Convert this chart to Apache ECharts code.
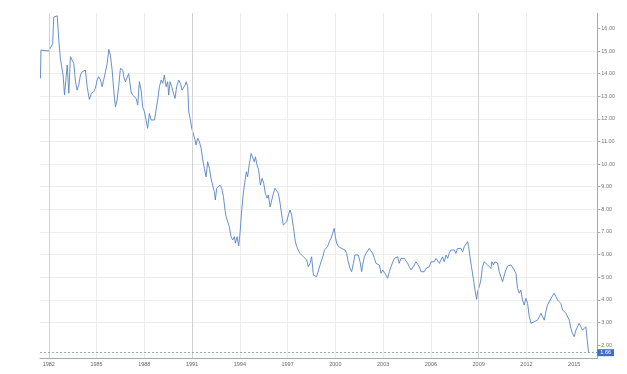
<!DOCTYPE html>
<html>
<head>
<meta charset="utf-8">
<script src="https://cdn.jsdelivr.net/npm/echarts@6/dist/echarts.min.js"></script>
<style>
html,body{margin:0;padding:0;background:#fff;}
#chart{width:627px;height:374px;}
</style>
</head>
<body>
<div id="chart"></div>
<script>
// Decimal-year positions of the observations
const years = [
1981.48,1981.51,1982.00,1982.17,1982.25,1982.31,1982.53,1982.63,1982.73,1982.84,1982.90,1982.99,
1983.09,1983.16,1983.26,1983.36,1983.47,1983.57,1983.68,1983.78,1983.88,1983.99,
1984.10,1984.20,1984.30,1984.41,1984.55,1984.68,1984.82,1984.93,
1985.04,1985.14,1985.25,1985.35,1985.45,1985.56,1985.67,1985.77,1985.87,1985.98,
1986.08,1986.19,1986.29,1986.39,1986.50,1986.65,1986.71,1986.81,1986.92,
1987.02,1987.17,1987.27,1987.38,1987.49,1987.59,1987.69,1987.80,1987.90,
1988.01,1988.11,1988.21,1988.32,1988.43,1988.53,1988.64,1988.74,1988.84,1988.95,
1989.06,1989.16,1989.26,1989.37,1989.47,1989.53,1989.62,1989.72,1989.83,1989.93,
1990.03,1990.16,1990.27,1990.37,1990.46,1990.56,1990.63,1990.73,1990.79,1990.88,1990.98,
1991.08,1991.19,1991.25,1991.35,1991.46,1991.57,1991.67,1991.77,1991.88,1991.98,
1992.09,1992.19,1992.29,1992.40,1992.46,1992.55,1992.65,1992.76,1992.86,1992.97,
1993.07,1993.14,1993.24,1993.34,1993.45,1993.55,1993.66,1993.72,1993.83,1993.93,
1994.01,1994.12,1994.22,1994.33,1994.41,1994.49,1994.60,1994.71,1994.81,1994.91,1994.98,
1995.08,1995.18,1995.29,1995.40,1995.50,1995.60,1995.71,1995.79,1995.90,
1996.00,1996.11,1996.21,1996.31,1996.42,1996.53,1996.63,1996.73,1996.84,1996.94,
1997.05,1997.15,1997.25,1997.36,1997.47,1997.57,1997.67,1997.78,1997.88,1997.99,
1998.09,1998.20,1998.30,1998.41,1998.51,1998.62,1998.72,1998.82,1998.93,
1999.04,1999.14,1999.24,1999.31,1999.41,1999.51,1999.62,1999.73,1999.83,1999.93,
2000.00,2000.08,2000.19,2000.29,2000.39,2000.50,2000.61,2000.71,2000.81,2000.92,
2001.02,2001.13,2001.23,2001.33,2001.44,2001.55,2001.65,2001.71,2001.82,2001.92,
2002.02,2002.13,2002.24,2002.34,2002.45,2002.55,2002.65,2002.76,2002.87,2002.97,
2003.07,2003.18,2003.28,2003.39,2003.49,2003.59,2003.70,2003.81,2003.91,
2004.01,2004.12,2004.22,2004.33,2004.44,2004.54,2004.64,2004.75,2004.85,2004.96,
2005.06,2005.16,2005.27,2005.38,2005.48,2005.58,2005.69,2005.79,2005.90,
2006.01,2006.11,2006.21,2006.32,2006.42,2006.53,2006.63,2006.73,2006.84,2006.95,
2007.05,2007.15,2007.26,2007.36,2007.47,2007.57,2007.67,2007.78,2007.89,2007.99,
2008.10,2008.20,2008.30,2008.37,2008.45,2008.55,2008.66,2008.77,2008.87,2008.93,
2009.04,2009.14,2009.24,2009.35,2009.46,2009.56,2009.66,2009.77,2009.83,2009.92,
2010.02,2010.08,2010.19,2010.29,2010.40,2010.50,2010.61,2010.71,2010.81,2010.92,
2011.03,2011.13,2011.23,2011.34,2011.44,2011.55,2011.65,2011.75,2011.86,2011.97,
2012.07,2012.18,2012.28,2012.38,2012.49,2012.60,2012.70,2012.80,2012.91,
2013.01,2013.12,2013.22,2013.32,2013.43,2013.54,2013.64,2013.74,2013.85,2013.95,
2014.06,2014.16,2014.27,2014.37,2014.48,2014.58,2014.69,2014.79,2014.89,
2015.00,2015.11,2015.21,2015.31,2015.42,2015.52,2015.63,2015.73,2015.83,2015.90
];
const values = [
13.79,15.04,15.00,15.22,15.34,16.49,16.56,15.48,14.67,14.60,13.94,13.05,
13.86,14.38,13.13,14.75,14.82,14.45,13.64,13.27,13.49,13.94,
14.08,14.00,14.16,13.42,12.86,13.13,13.20,13.35,
13.72,13.86,13.72,13.42,13.72,14.08,14.45,15.07,14.82,14.16,
13.27,12.53,12.83,13.42,14.23,14.16,13.86,13.64,13.57,
14.00,13.20,13.05,12.98,12.90,12.61,13.64,13.27,12.53,
12.31,11.95,11.58,12.24,11.95,11.87,11.95,12.02,12.83,13.42,
13.72,13.57,13.94,13.42,13.64,13.05,13.64,13.42,13.13,12.90,
13.42,13.72,13.57,13.27,13.20,13.49,13.64,13.42,12.31,12.02,11.58,
11.50,11.06,10.84,11.14,10.99,10.70,10.18,9.81,9.44,10.10,
9.81,9.37,9.07,8.78,8.41,8.93,9.00,9.07,8.93,8.56,
7.97,7.67,7.60,7.23,6.79,6.64,6.79,6.50,6.79,6.38,
6.94,7.97,8.71,9.29,9.66,9.44,10.03,10.47,10.47,10.10,10.32,
9.96,9.74,9.07,9.37,9.15,8.71,8.49,8.63,8.11,
8.04,8.71,8.93,8.85,8.71,8.26,7.75,7.30,7.23,7.45,
7.75,7.97,7.75,7.23,6.64,6.35,6.20,6.05,6.12,5.90,
5.98,5.76,5.46,5.61,5.90,5.09,5.02,5.02,5.09,
5.54,5.50,5.98,6.20,6.27,6.35,6.57,6.72,6.94,7.16,
6.79,6.50,6.35,6.35,6.27,6.20,6.20,6.05,5.68,5.39,
5.24,5.61,5.98,6.05,5.98,5.68,5.24,5.54,5.90,6.05,
5.98,6.27,6.20,6.05,5.83,5.61,5.68,5.54,5.17,5.32,
5.24,5.09,4.95,5.24,5.46,5.54,5.83,5.76,5.90,
5.61,5.83,5.90,5.83,5.76,5.61,5.46,5.32,5.39,5.54,
5.68,5.61,5.46,5.24,5.17,5.24,5.39,5.32,5.46,
5.68,5.76,5.68,5.83,5.76,5.61,5.76,5.90,5.68,5.98,
5.83,6.05,6.20,6.12,6.20,6.05,6.27,6.20,6.27,6.12,
6.35,6.42,6.57,6.35,5.90,5.46,4.95,4.43,4.02,4.36,
4.58,4.87,5.46,5.68,5.73,5.54,5.61,5.39,5.68,5.54,
5.68,5.76,5.61,5.24,5.17,4.80,5.09,5.32,5.49,5.54,
5.54,5.49,5.32,5.17,4.51,4.29,4.43,3.99,3.77,4.06,
3.84,3.25,2.96,3.03,3.03,3.03,3.10,3.18,3.40,
3.33,3.10,3.47,3.77,3.91,4.06,4.14,4.29,4.14,3.99,
4.06,3.84,3.55,3.55,3.40,3.47,3.10,2.73,2.52,
2.37,2.66,2.73,2.96,2.81,2.66,2.66,2.81,2.88,1.66
];
const xTickYears = [1982,1985,1988,1991,1994,1997,2000,2003,2006,2009,2012,2015];
const yTickValues = [2,3,4,5,6,7,8,9,10,11,12,13,14,15,16];
const strongGridYears = [1982,1991,2009];

const seriesData = years.map((y, i) => [y, values[i]]);
const lastValue = values[values.length - 1];

const chart = echarts.init(document.getElementById('chart'), null, {renderer: 'canvas'});
const markData = strongGridYears.map(y => ({
  xAxis: y,
  lineStyle: {type: 'solid', color: '#d2d2d2', width: 1},
  label: {show: false}
}));
markData.push({
  yAxis: lastValue,
  lineStyle: {type: [2, 2], color: '#8795b0', width: 0.8},
  label: {
    show: true, position: 'end', distance: 0,
    formatter: () => lastValue.toFixed(2),
    backgroundColor: '#3d6fc4', color: '#fff', fontSize: 5.5,
    fontFamily: 'Liberation Sans, Arial', padding: [1, 3, 0, 3], lineHeight: 6
  }
});

chart.setOption({
  animation: false,
  grid: {left: 40, right: 29.7, top: 13, bottom: 16, containLabel: false},
  xAxis: {
    type: 'value', min: 1981.45, max: 2016.45,
    axisLine: {show: true, lineStyle: {color: '#a8a8a8', width: 1}},
    axisTick: {show: false, customValues: xTickYears},
    axisLabel: {customValues: xTickYears, fontSize: 5.5, color: '#666', margin: 3,
      fontFamily: 'Liberation Sans, Arial', formatter: v => String(v)},
    splitLine: {show: true, showMinLine: false, showMaxLine: false, lineStyle: {color: '#ececec', width: 1}}
  },
  yAxis: {
    type: 'value', position: 'right', min: 1.425, max: 16.68,
    axisLine: {show: true, lineStyle: {color: '#a8a8a8', width: 1}},
    axisTick: {show: true, inside: false, length: 3, customValues: yTickValues, lineStyle: {color: '#b0b0b0'}},
    axisLabel: {customValues: yTickValues, fontSize: 5.5, color: '#777', margin: 4,
      fontFamily: 'Liberation Sans, Arial', formatter: v => v.toFixed(2)},
    splitLine: {show: true, showMinLine: false, showMaxLine: false, lineStyle: {color: '#efefef', width: 1}}
  },
  series: [{
    type: 'line',
    data: seriesData,
    showSymbol: false,
    symbol: 'none',
    lineStyle: {color: '#5583c4', width: 0.9},
    markLine: {silent: true, symbol: 'none', animation: false, data: markData}
  }]
});
</script>
</body>
</html>
